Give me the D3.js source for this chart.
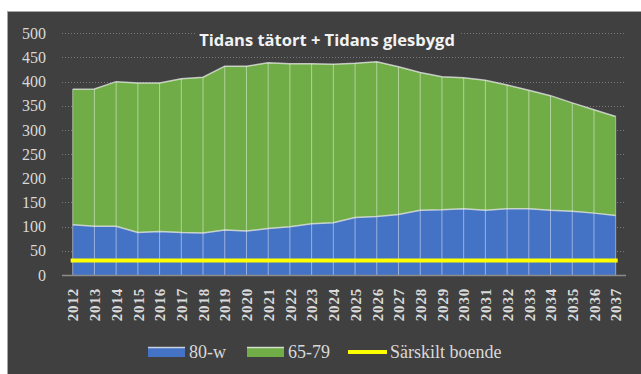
<!DOCTYPE html>
<html>
<head>
<meta charset="utf-8">
<script src="https://cdn.jsdelivr.net/npm/d3@7"></script>
<style>
  html, body { margin: 0; padding: 0; background: #ffffff; }
  svg { display: block; }
</style>
</head>
<body>
<svg id="chart" width="641" height="374"></svg>
<script>
// Age groups per year, Tidans tätort + Tidans glesbygd
const years = [2012, 2013, 2014, 2015, 2016, 2017, 2018, 2019, 2020, 2021, 2022, 2023, 2024,
               2025, 2026, 2027, 2028, 2029, 2030, 2031, 2032, 2033, 2034, 2035, 2036, 2037];
const age80w = [104, 101, 101, 88, 90, 88, 87, 93, 91, 96, 100, 106, 108,
                119, 121, 125, 134, 135, 137, 134, 137, 137, 134, 132, 128, 123];
const age6579 = [280, 284, 299, 309, 307, 318, 322, 339, 341, 343, 337, 331, 328,
                 319, 320, 306, 285, 275, 271, 269, 256, 245, 237, 224, 214, 205];
const sarskiltBoende = [30, 30, 30, 30, 30, 30, 30, 30, 30, 30, 30, 30, 30,
                        30, 30, 30, 30, 30, 30, 30, 30, 30, 30, 30, 30, 30];
const yTicks = [0, 50, 100, 150, 200, 250, 300, 350, 400, 450, 500];
const seriesNames = ["80-w", "65-79", "Särskilt boende"];
const title = "Tidans tätort + Tidans glesbygd";

const colors = { "80-w": "#4472C4", "65-79": "#70AD47", "Särskilt boende": "#FFFF00" };
const textColor = "#d9d9d9";
const serif = "'Liberation Serif', 'DejaVu Serif', serif";

const svg = d3.select("#chart");

// chart background with thin light frame
svg.append("rect")
  .attr("x", 7.5).attr("y", 11.5)
  .attr("width", 660).attr("height", 400)
  .attr("fill", "#404040")
  .attr("stroke", "#a6a6a6").attr("stroke-width", 1);

const gridLeft = 62, gridRight = 626;
const x = d3.scalePoint().domain(years).range([72.7, 615.7]);
const y = d3.scaleLinear().domain([0, 500]).range([275, 33.3]);

// dotted horizontal gridlines
svg.append("g")
  .selectAll("line")
  .data(yTicks.filter(d => d > 0))
  .join("line")
  .attr("x1", gridLeft).attr("x2", gridRight)
  .attr("y1", d => Math.round(y(d)) + 0.5).attr("y2", d => Math.round(y(d)) + 0.5)
  .attr("stroke", "#7a7a7a").attr("stroke-width", 1)
  .attr("stroke-dasharray", "1,2");

// stacked areas
const rows = years.map((yr, i) => ({ year: yr, "80-w": age80w[i], "65-79": age6579[i] }));
const stack = d3.stack().keys(["80-w", "65-79"]);
const layers = stack(rows);

const area = d3.area()
  .x(d => x(d.data.year))
  .y0(d => y(d[0]))
  .y1(d => y(d[1]));

svg.append("g")
  .selectAll("path")
  .data(layers)
  .join("path")
  .attr("d", area)
  .attr("fill", d => colors[d.key]);

// vertical drop lines at each year
const upperLayer = layers[1];
svg.append("g")
  .selectAll("line")
  .data(upperLayer)
  .join("line")
  .attr("x1", d => x(d.data.year)).attr("x2", d => x(d.data.year))
  .attr("y1", y(0)).attr("y2", d => y(d[1]))
  .attr("stroke", "rgba(255,255,255,0.45)").attr("stroke-width", 1);

// light outline along the top of each area
const topLine = d3.line()
  .x(d => x(d.data.year))
  .y(d => y(d[1]));
svg.append("g")
  .selectAll("path")
  .data(layers)
  .join("path")
  .attr("d", topLine)
  .attr("fill", "none")
  .attr("stroke", "rgba(235,235,235,0.75)")
  .attr("stroke-width", 1.5);

// Särskilt boende line
const boendeLine = d3.line()
  .x((d, i) => x(years[i]))
  .y(d => y(d));
svg.append("path")
  .attr("d", boendeLine(sarskiltBoende))
  .attr("fill", "none")
  .attr("stroke", colors["Särskilt boende"])
  .attr("stroke-width", 4)
  .attr("stroke-linecap", "square");

// x axis baseline
svg.append("line")
  .attr("x1", gridLeft).attr("x2", gridRight)
  .attr("y1", y(0) + 0.5).attr("y2", y(0) + 0.5)
  .attr("stroke", "#8c8c8c").attr("stroke-width", 1.5);

// y axis labels
const yAxis = d3.axisLeft(y).tickValues(yTicks).tickSize(0).tickPadding(0);
const gy = svg.append("g").attr("transform", "translate(46,0)").call(yAxis);
gy.select(".domain").remove();
gy.selectAll("text")
  .attr("fill", textColor)
  .style("font-family", serif)
  .style("font-size", "16px");

// x axis labels, rotated
const xAxis = d3.axisBottom(x).tickSize(0).tickPadding(0);
const gx = svg.append("g").attr("transform", `translate(0,${y(0)})`).call(xAxis);
gx.select(".domain").remove();
gx.selectAll("text")
  .attr("fill", textColor)
  .style("font-family", serif)
  .style("font-size", "15px")
  .style("font-weight", "bold")
  .style("letter-spacing", "0.8px")
  .attr("text-anchor", "end")
  .attr("y", 0)
  .attr("dy", "0.35em")
  .attr("transform", "translate(0,13) rotate(-90)");

// title with background patch over the gridline
const tg = svg.append("g");
const tText = tg.append("text")
  .attr("x", 327).attr("y", 46)
  .attr("text-anchor", "middle")
  .attr("fill", "#f2f2f2")
  .style("font-family", "'Open Sans', 'Noto Sans', sans-serif")
  .style("font-size", "16.5px")
  .style("font-weight", "bold")
  .text(title);
const bb = tText.node().getBBox();
tg.insert("rect", "text")
  .attr("x", bb.x - 4).attr("y", bb.y)
  .attr("width", bb.width + 8).attr("height", bb.height)
  .attr("fill", "#404040");

// legend
const legend = svg.append("g").attr("transform", "translate(0,352)");
const legendItems = [
  { name: seriesNames[0], x: 148, type: "area" },
  { name: seriesNames[1], x: 247, type: "area" },
  { name: seriesNames[2], x: 348, type: "line" }
];
legendItems.forEach(it => {
  const g = legend.append("g").attr("transform", `translate(${it.x},0)`);
  if (it.type === "area") {
    g.append("rect").attr("x", 0).attr("y", -5).attr("width", 37).attr("height", 10)
      .attr("fill", colors[it.name]);
    g.append("line").attr("x1", 0).attr("x2", 37).attr("y1", -4.5).attr("y2", -4.5)
      .attr("stroke", "rgba(235,235,235,0.8)").attr("stroke-width", 1.5);
    g.append("text").attr("x", 41).attr("y", 0).attr("dy", "0.35em")
      .attr("fill", textColor)
      .style("font-family", serif).style("font-size", "18px")
      .text(it.name);
  } else {
    g.append("line").attr("x1", 0).attr("x2", 39).attr("y1", 0).attr("y2", 0)
      .attr("stroke", colors[it.name]).attr("stroke-width", 4);
    g.append("text").attr("x", 42).attr("y", 0).attr("dy", "0.35em")
      .attr("fill", textColor)
      .style("font-family", serif).style("font-size", "18px")
      .text(it.name);
  }
});
</script>
</body>
</html>
